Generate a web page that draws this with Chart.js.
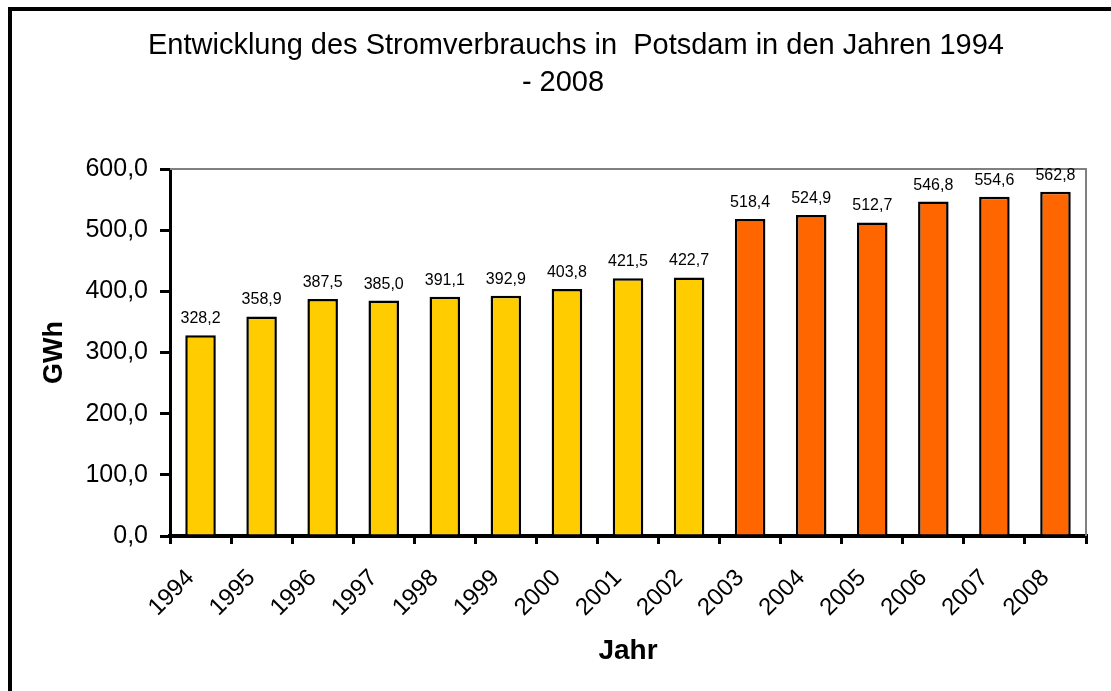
<!DOCTYPE html>
<html>
<head>
<meta charset="utf-8">
<script src="https://cdn.jsdelivr.net/npm/chart.js@4.4.1/dist/chart.umd.min.js"></script>
<style>
  html, body { margin: 0; padding: 0; width: 1111px; height: 691px; overflow: hidden; background: #fff; }
  #frame { position: absolute; left: 8px; top: 7px; width: 2000px; height: 2000px;
           border-left: 4px solid #000; border-top: 4px solid #000; box-sizing: border-box; }
  #title { position: absolute; left: 0; top: 26px; width: 1152px; text-align: center;
           font-family: "Liberation Sans", Arial, sans-serif; font-size: 29px; line-height: 37px; color: #000; white-space: pre; }
  #wrap { position: absolute; left: 0; top: 0; width: 1111px; height: 691px; }
</style>
</head>
<body>
<div id="frame"></div>
<div id="wrap"><canvas id="c" width="1111" height="691"></canvas></div>
<div id="title"><div>Entwicklung des Stromverbrauchs in  Potsdam in den Jahren 1994</div><div style="padding-right:26px">- 2008</div></div>
<script>
const years = ["1994","1995","1996","1997","1998","1999","2000","2001","2002","2003","2004","2005","2006","2007","2008"];
const consumption = [328.2, 358.9, 387.5, 385.0, 391.1, 392.9, 403.8, 421.5, 422.7, 518.4, 524.9, 512.7, 546.8, 554.6, 562.8];
const yTicks = [0, 100, 200, 300, 400, 500, 600];
const yellow = "#FFCC00";
const orange = "#FF6600";
const fmt = v => v.toFixed(1).replace('.', ',');
const FONT = '"Liberation Sans", Arial, sans-serif';

const frameLines = {
  id: 'frameLines',
  beforeDatasetsDraw(chart) {
    const {ctx, chartArea: a} = chart;
    ctx.save();
    ctx.strokeStyle = '#808080';
    ctx.lineWidth = 2;
    ctx.beginPath();
    ctx.moveTo(a.left, a.top);
    ctx.lineTo(a.right, a.top);
    ctx.lineTo(a.right, a.bottom);
    ctx.stroke();
    ctx.restore();
  }
};

const valueLabels = {
  id: 'valueLabels',
  afterDatasetsDraw(chart) {
    const {ctx} = chart;
    const meta = chart.getDatasetMeta(0);
    ctx.save();
    ctx.font = '16px ' + FONT;
    ctx.fillStyle = '#000';
    ctx.textAlign = 'center';
    ctx.textBaseline = 'alphabetic';
    meta.data.forEach((bar, i) => {
      ctx.fillText(fmt(consumption[i]), bar.x, bar.y - 12);
    });
    ctx.restore();
  }
};

new Chart(document.getElementById('c'), {
  type: 'bar',
  data: {
    labels: years,
    datasets: [{
      data: consumption,
      backgroundColor: years.map(y => Number(y) >= 2003 ? orange : yellow),
      borderColor: '#000',
      borderWidth: 2.5,
      barPercentage: 0.5,
      categoryPercentage: 1.0
    }]
  },
  options: {
    responsive: false,
    animation: false,
    events: [],
    layout: { padding: { top: 169, right: 25, left: 0, bottom: 0 } },
    plugins: { legend: { display: false }, title: { display: false }, tooltip: { enabled: false } },
    scales: {
      x: {
        afterFit(s) { s.height = 155; },
        grid: { display: true, drawOnChartArea: false, drawTicks: true, tickLength: 8, color: '#000', lineWidth: 3, offset: true },
        border: { display: true, color: '#000', width: 4 },
        ticks: { color: '#000', font: { family: FONT, size: 24 }, maxRotation: 45, minRotation: 45, padding: 20, labelOffset: -10, autoSkip: false },
        title: { display: true, text: 'Jahr', color: '#000', font: { family: FONT, size: 28, weight: 'bold' }, padding: { top: 0, bottom: 23 } }
      },
      y: {
        afterFit(s) { s.width = 170; },
        min: 0, max: 600,
        afterBuildTicks(s) { s.ticks = yTicks.map(v => ({ value: v })); },
        grid: { display: true, drawOnChartArea: false, drawTicks: true, tickLength: 10, color: '#000', lineWidth: 3 },
        border: { display: true, color: '#000', width: 3 },
        ticks: { color: '#000', font: { family: FONT, size: 25 }, padding: 12, callback: v => fmt(v) },
        title: { display: true, text: 'GWh', color: '#000', font: { family: FONT, size: 27, weight: 'bold' }, padding: { top: 38, bottom: 0 } }
      }
    }
  },
  plugins: [frameLines, valueLabels]
});
</script>
</body>
</html>
